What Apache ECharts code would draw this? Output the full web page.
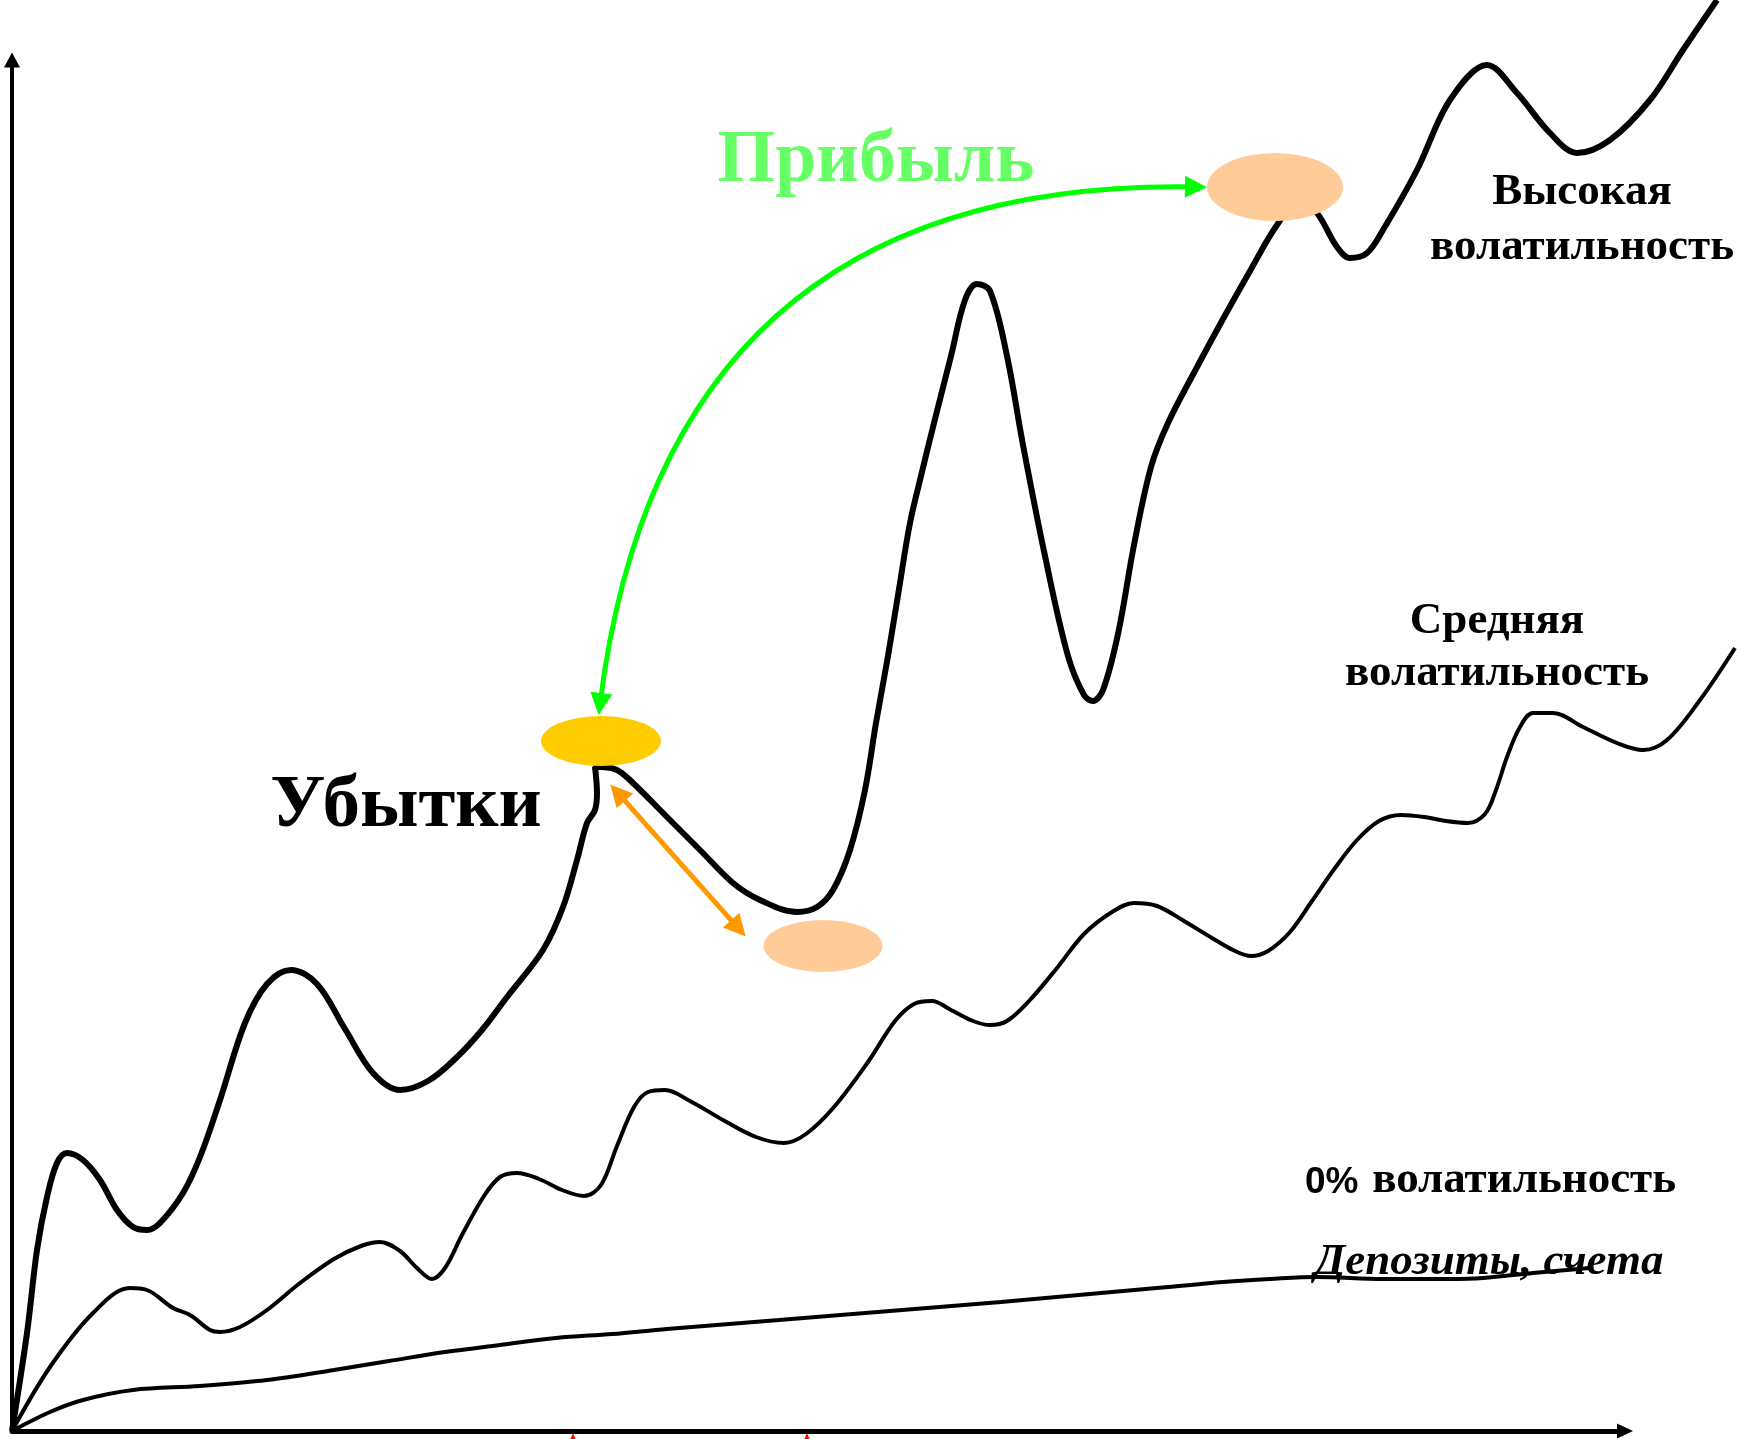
<!DOCTYPE html>
<html><head><meta charset="utf-8">
<script src="https://cdn.jsdelivr.net/npm/echarts@6/dist/echarts.min.js"></script>
<style>html,body{margin:0;padding:0;background:#fff}#c{width:1744px;height:1439px}</style>
</head><body><div id="c"></div>
<script>
// High volatility path
const highVol = [[0,0],[15,98],[25,181],[35,234],[45,268],[55,278],[71,271],[88,251],[105,221],[121,204],[135,201],[148,208],[171,238],[188,274],[208,331],[233,408],[255,447],[279,461],[305,447],[333,402],[361,358],[388,341],[416,350],[444,373],[470,401],[495,434],[531,481],[551,524],[565,571],[575,608],[583,621],[585,638],[583,664],[588,664],[605,661],[621,648],[655,614],[688,581],[721,548],[748,531],[785,519],[805,524],[821,541],[838,581],[853,641],[864,708],[876,775],[887,842],[898,908],[909,955],[922,1008],[939,1075],[953,1131],[965,1147],[978,1140],[995,1075],[1011,986],[1033,875],[1056,775],[1072,736],[1081,730],[1091,741],[1106,797],[1122,886],[1139,964],[1156,1008],[1184,1062],[1211,1112],[1238,1160],[1265,1206],[1288,1231],[1305,1218],[1325,1184],[1338,1173],[1355,1178],[1371,1201],[1405,1261],[1438,1331],[1475,1366],[1505,1338],[1538,1298],[1565,1278],[1598,1291],[1638,1331],[1671,1381],[1705,1431]];
// Medium volatility path
const midVol = [[0,0],[38,64],[81,118],[118,143],[135,141],[161,123],[178,116],[198,101],[208,99],[228,104],[255,121],[288,148],[322,172],[349,185],[368,189],[388,180],[405,163],[420,152],[433,163],[450,196],[472,235],[488,254],[505,258],[527,252],[550,241],[572,235],[589,246],[605,285],[622,324],[636,339],[653,341],[678,330],[711,311],[744,294],[772,288],[794,297],[822,324],[856,369],[883,410],[902,427],[920,430],[939,421],[961,410],[978,406],[995,410],[1017,430],[1045,463],[1072,497],[1100,519],[1122,528],[1145,525],[1172,510],[1200,493],[1223,480],[1239,475],[1256,480],[1278,499],[1300,530],[1323,563],[1345,591],[1367,610],[1389,616],[1412,614],[1434,610],[1456,608],[1473,617],[1484,641],[1495,674],[1508,704],[1521,718],[1541,718],[1571,704],[1605,688],[1631,681],[1655,691],[1688,731],[1723,783]];
// 0% volatility (deposits) path
const zeroVol = [[0,0],[38,19],[71,31],[121,41],[188,45],[255,51],[322,61],[377,70],[433,79],[488,86],[544,93],[600,97],[655,102],[767,111],[878,120],[989,129],[1100,139],[1156,144],[1211,149],[1258,152],[1305,154],[1371,152],[1438,152],[1471,153],[1521,158],[1578,163]];
// markers: buy point, loss point, profit point
const buyPoint = [[589,690]];
const lossPoint = [[811,485]];
const profitPoint = [[1263,1244]];
const profitArc = [[588,727],[1184,1244]];
const lossArrow = [[605.6,638.4],[726.4,502.6]];
const redMarks = [[561,-9],[795,-9]];

const ELLIPSE = 'path://M0 1A1 1 0 1 1 2 1A1 1 0 1 1 0 1Z';
const serif = '"Liberation Serif", "Times New Roman", serif';
const sans = '"Liberation Sans", Arial, sans-serif';

const chart = echarts.init(document.getElementById('c'), null, {renderer: 'canvas'});
function noAxis(extra) {
  return Object.assign({type: 'value', show: false, axisLine: {show: false}, axisTick: {show: false}, axisLabel: {show: false}, splitLine: {show: false}}, extra);
}
function txt(x, y, text, size, opts) {
  return {type: 'text', x: x, y: y, z: 100, style: Object.assign({
    text: text, fontSize: size, fontFamily: serif, fontWeight: 'bold', fill: '#000',
    align: 'center', verticalAlign: 'middle', textAlign: 'center', textVerticalAlign: 'middle'
  }, opts || {})};
}
chart.setOption({
  animation: false,
  backgroundColor: '#fff',
  grid: [
    {left: 12, right: 0, top: 0, bottom: 8},
    {left: 12, right: 119, top: 60, bottom: 8}
  ],
  xAxis: [
    noAxis({gridIndex: 0, min: 0, max: 1732}),
    {type: 'value', gridIndex: 1, min: 0, max: 1, axisTick: {show: false}, axisLabel: {show: false}, splitLine: {show: false},
     axisLine: {show: true, onZero: false, symbol: ['none', 'triangle'], symbolSize: [15, 16], lineStyle: {color: '#000', width: 5}}}
  ],
  yAxis: [
    noAxis({gridIndex: 0, min: 0, max: 1431}),
    {type: 'value', gridIndex: 1, min: 0, max: 1, axisTick: {show: false}, axisLabel: {show: false}, splitLine: {show: false},
     axisLine: {show: true, onZero: false, symbol: ['none', 'triangle'], symbolSize: [16, 15], lineStyle: {color: '#000', width: 4}}}
  ],
  series: [
    {type: 'line', name: 'high', data: highVol, smooth: 0.35, showSymbol: false, symbol: 'none', clip: false,
     lineStyle: {color: '#000', width: 6}, z: 3},
    {type: 'line', name: 'mid', data: midVol, smooth: 0.35, showSymbol: false, symbol: 'none', clip: false,
     lineStyle: {color: '#000', width: 4}, z: 3},
    {type: 'line', name: 'zero', data: zeroVol, smooth: 0.35, showSymbol: false, symbol: 'none', clip: false,
     lineStyle: {color: '#000', width: 4}, z: 3},
    {type: 'scatter', data: buyPoint, symbol: ELLIPSE, symbolSize: [120, 50], itemStyle: {color: '#FFCC00', opacity: 1}, z: 5, clip: false},
    {type: 'scatter', data: lossPoint, symbol: ELLIPSE, symbolSize: [119, 52], itemStyle: {color: '#FFCC99', opacity: 1}, z: 5, clip: false},
    {type: 'scatter', data: profitPoint, symbol: ELLIPSE, symbolSize: [136, 68], itemStyle: {color: '#FFCC99', opacity: 1}, z: 5, clip: false},
    {type: 'lines', coordinateSystem: 'cartesian2d', z: 6,
     data: [{coords: profitArc}], symbol: ['triangle', 'triangle'], symbolSize: 22,
     lineStyle: {color: '#00FF00', width: 5, curveness: 0.45, opacity: 1}},
    {type: 'lines', coordinateSystem: 'cartesian2d', z: 6,
     data: [{coords: lossArrow}], symbol: ['triangle', 'triangle'], symbolSize: 22,
     lineStyle: {color: '#FF9900', width: 5, curveness: 0, opacity: 1}},
    {type: 'scatter', data: redMarks, symbol: 'triangle', symbolSize: [12, 14], itemStyle: {color: '#FF0000', opacity: 1}, clip: false, z: 2}
  ],
  graphic: [
    txt(876, 162, 'Прибыль', 74, {fill: '#66FF66'}),
    txt(406, 807, 'Убытки', 75),
    txt(1582, 192, 'Высокая', 45),
    txt(1582, 247, 'волатильность', 45),
    txt(1497, 621, 'Средняя', 45),
    txt(1497, 673, 'волатильность', 45),
    txt(1305, 1183, '0%', 37, {fontFamily: sans, align: 'left', textAlign: 'left'}),
    txt(1676, 1180, 'волатильность', 45, {align: 'right', textAlign: 'right'}),
    txt(1489, 1262, 'Депозиты, счета', 45, {fontStyle: 'italic'})
  ]
});
</script>
</body></html>
